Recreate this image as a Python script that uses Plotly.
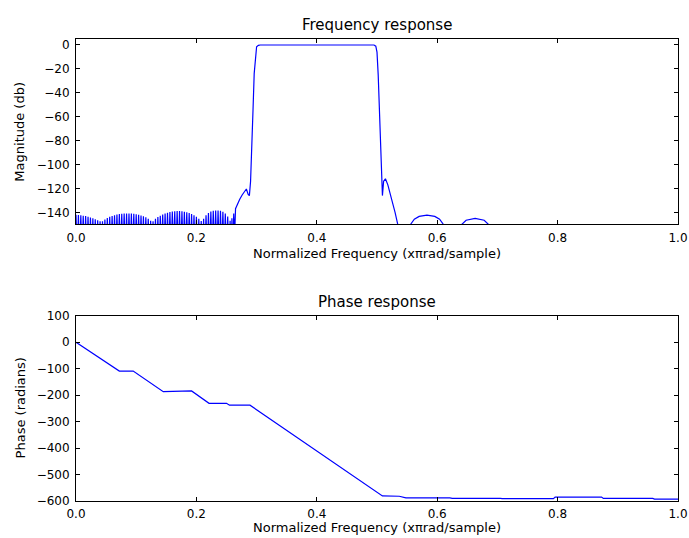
import plotly.graph_objects as go
from plotly.subplots import make_subplots

# ---------------- data ----------------
# Stopband ripple peaks (dense lobes) of the magnitude response, 0.0 .. 0.256
ripple_step = 0.004
ripple_db = [
    -142, -142.2, -142.4, -142.8, -143.2, -143.7, -144.3, -145, -145.8, -146.6, -147.4,
    -147.5, -146, -144.8, -143.8, -143, -142.4, -141.9, -141.5, -141.2, -141.05, -141,
    -141, -141.1, -141.3, -141.6, -142, -142.6, -143.3, -144.2, -145.4, -147,
    -147.5, -145.5, -144, -142.8, -141.8, -141, -140.3, -139.8, -139.4, -139.1, -139,
    -139, -139.2, -139.5, -140, -140.6, -141.4, -142.5, -143.8, -145.5, -147.3,
    -145.5, -142.5, -140.5, -139.3, -138.7, -138.5, -138.5, -138.8, -139.6, -141, -143.5, -147,
]
ripple_floor = -175

# Rest of the magnitude response
mag_freq = [0.258, 0.259, 0.2605, 0.262, 0.2635, 0.265, 0.268, 0.272, 0.276, 0.280,
            0.283, 0.286, 0.288, 0.290, 0.292, 0.293, 0.294, 0.296, 0.298, 0.300,
            0.303, 0.306, 0.40, 0.495, 0.498, 0.500, 0.502, 0.504, 0.506, 0.508,
            0.509, 0.511, 0.514, 0.518, 0.522, 0.526, 0.530, 0.534, 0.540, 0.550,
            0.556, 0.562, 0.570, 0.583, 0.596, 0.604, 0.610, 0.616, 0.635, 0.641,
            0.648, 0.663, 0.678, 0.685, 0.692, 0.75, 1.0]
mag_db = [-175, -145, -175, -141, -160, -137, -133, -129, -125.5, -122,
          -120.5, -125, -126, -114, -90, -71, -55, -24, -8, -1.5,
          -0.3, 0, 0, 0, -1, -6, -25, -55, -88, -118,
          -126, -114, -112, -117, -124, -131, -140, -149, -165, -165,
          -150, -145.8, -143.4, -142.4, -143.4, -145.8, -150, -165, -165, -150,
          -146.6, -145, -146.6, -150, -165, -170, -170]

# Unwrapped phase response
phase_freq = [0.0, 0.072, 0.095, 0.145, 0.192, 0.221, 0.250, 0.255, 0.289, 0.509,
              0.537, 0.548, 0.621, 0.625, 0.705, 0.708, 0.793, 0.796, 0.873, 0.876,
              0.958, 0.961, 1.0]
phase_rad = [0, -109, -109, -187, -184, -231, -231, -238, -238, -581,
             -582, -588, -588, -590, -590, -591, -591, -585, -585, -590,
             -590, -593, -593]

x_ticks = [0.0, 0.2, 0.4, 0.6, 0.8, 1.0]
mag_ticks = [0, -20, -40, -60, -80, -100, -120, -140]
phase_ticks = [100, 0, -100, -200, -300, -400, -500, -600]

# ---------------- build magnitude trace ----------------
mx, my = [], []
for i, v in enumerate(ripple_db):
    f = i * ripple_step
    mx += [f, f + ripple_step / 2]
    my += [v, ripple_floor]
mx += mag_freq
my += mag_db

FONT = "DejaVu Sans"
BLUE = "#0000ff"

fig = make_subplots(rows=2, cols=1, vertical_spacing=0.198)
fig.add_trace(go.Scatter(x=mx, y=my, mode="lines", line=dict(color=BLUE, width=1.2),
                         hoverinfo="skip"), row=1, col=1)
fig.add_trace(go.Scatter(x=phase_freq, y=phase_rad, mode="lines",
                         line=dict(color=BLUE, width=1.2), hoverinfo="skip"), row=2, col=1)

axis_common = dict(showgrid=False, zeroline=False, showline=True, linecolor="black",
                   linewidth=1, mirror="ticks", ticks="inside", ticklen=4,
                   tickcolor="black", automargin=False,
                   tickfont=dict(family=FONT, size=12, color="black"))

fig.update_xaxes(range=[0, 1], tickvals=x_ticks, ticktext=[f"{t:.1f}" for t in x_ticks],
                 ticklabelstandoff=2, **axis_common)
fig.update_yaxes(range=[-150, 5], tickvals=mag_ticks, row=1, col=1,
                 ticklabelstandoff=3, **axis_common)
fig.update_yaxes(range=[-600, 100], tickvals=phase_ticks, row=2, col=1,
                 ticklabelstandoff=3, **axis_common)
fig.update_xaxes(domain=[0, 1])
fig.update_layout(
    width=689, height=538,
    margin=dict(l=76, r=11, t=39, b=37, autoexpand=False),
    paper_bgcolor="white", plot_bgcolor="white",
    showlegend=False,
    font=dict(family=FONT, color="black"),
)
fig.layout.yaxis.domain = [0.599, 1.0]
fig.layout.yaxis2.domain = [0.0, 0.401]

ann = []
def text(x, y, s, size, angle=0, xanchor="center", yanchor="middle", yshift=0):
    ann.append(dict(x=x, y=y, xref="paper", yref="paper", text=s, showarrow=False,
                    textangle=angle, xanchor=xanchor, yanchor=yanchor, yshift=yshift,
                    font=dict(family=FONT, size=size, color="black")))

text(0.5, 1.0, "Frequency response", 15, yanchor="bottom", yshift=3)
text(0.5, 0.401, "Phase response", 15, yanchor="bottom", yshift=3)
text(0.5, 0.599, "Normalized Frequency (x\u03c0rad/sample)", 13, yanchor="top", yshift=-20)
text(0.5, 0.0, "Normalized Frequency (x\u03c0rad/sample)", 13, yanchor="top", yshift=-17)
text(-0.093, 0.7995, "Magnitude (db)", 13, angle=-90)
text(-0.093, 0.2005, "Phase (radians)", 13, angle=-90)
fig.update_layout(annotations=ann)

fig.write_html(
    "out.html",
    config={"displayModeBar": False},
    post_script="document.body.style.margin='0';document.body.style.overflow='hidden';",
)
